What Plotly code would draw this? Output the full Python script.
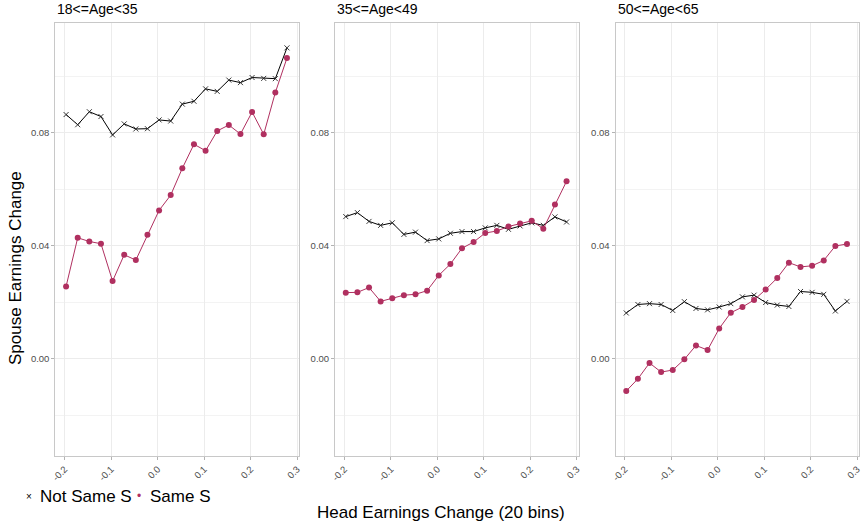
import plotly.graph_objects as go

# ---- data ----
panel_titles = ["18<=Age<35", "35<=Age<49", "50<=Age<65"]
x_bins = [-0.197, -0.172, -0.147, -0.122, -0.097, -0.072, -0.047, -0.022, 0.003, 0.028,
          0.053, 0.078, 0.103, 0.128, 0.153, 0.178, 0.203, 0.228, 0.253, 0.278]

not_same_1 = [0.0864, 0.0828, 0.0874, 0.0857, 0.0792, 0.0831, 0.0813, 0.0814, 0.0845, 0.0841,
              0.0901, 0.0911, 0.0955, 0.0946, 0.0986, 0.0977, 0.0995, 0.0992, 0.0991, 0.1100]
same_1 = [0.0256, 0.0428, 0.0415, 0.0407, 0.0275, 0.0368, 0.0349, 0.0439, 0.0525, 0.0579,
          0.0674, 0.0759, 0.0736, 0.0806, 0.0827, 0.0795, 0.0873, 0.0794, 0.0942, 0.1064]

not_same_2 = [0.0503, 0.0517, 0.0486, 0.0472, 0.0481, 0.0440, 0.0448, 0.0418, 0.0424, 0.0444,
              0.0450, 0.0450, 0.0463, 0.0472, 0.0458, 0.0470, 0.0481, 0.0472, 0.0502, 0.0484]
same_2 = [0.0234, 0.0235, 0.0252, 0.0203, 0.0214, 0.0225, 0.0228, 0.0241, 0.0295, 0.0335,
          0.0391, 0.0413, 0.0445, 0.0452, 0.0468, 0.0479, 0.0488, 0.0460, 0.0546, 0.0628]

not_same_3 = [0.0162, 0.0192, 0.0195, 0.0192, 0.0171, 0.0202, 0.0178, 0.0173, 0.0183, 0.0195,
              0.0219, 0.0225, 0.0199, 0.0190, 0.0185, 0.0238, 0.0235, 0.0228, 0.0169, 0.0203]
same_3 = [-0.0114, -0.0071, -0.0015, -0.0047, -0.0040, -0.0002, 0.0047, 0.0031, 0.0107, 0.0163,
          0.0183, 0.0208, 0.0245, 0.0286, 0.0340, 0.0325, 0.0329, 0.0348, 0.0399, 0.0406]

series_names = ["Not Same S", "Same S"]
x_ticks = [-0.2, -0.1, 0.0, 0.1, 0.2, 0.3]
y_ticks = [0.00, 0.04, 0.08]

# ---- style ----
W, H = 862, 522
BLACK = "#000000"
PINK = "#B03060"
FONT = "Liberation Sans, Arial, sans-serif"
panels_px = [(55.3, 299.0), (335.0, 578.6), (615.5, 859.0)]
y_top_px, y_bot_px = 22.7, 456.0
x_range = [-0.2202, 0.3039]
y_range = [-0.0344, 0.1189]

fig = go.Figure()
data = [(not_same_1, same_1), (not_same_2, same_2), (not_same_3, same_3)]

for i, (ns, s) in enumerate(data):
    sfx = "" if i == 0 else str(i + 1)
    fig.add_trace(go.Scatter(
        x=x_bins, y=ns, mode="lines+markers", name=series_names[0], showlegend=False,
        xaxis="x" + sfx, yaxis="y" + sfx,
        line=dict(color=BLACK, width=1),
        marker=dict(symbol="x-thin", size=5, line=dict(color="#222222", width=0.9)),
    ))
    fig.add_trace(go.Scatter(
        x=x_bins, y=s, mode="lines+markers", name=series_names[1], showlegend=False,
        xaxis="x" + sfx, yaxis="y" + sfx,
        line=dict(color=PINK, width=1),
        marker=dict(symbol="circle", size=6, color=PINK),
    ))

ydom = [1 - y_bot_px / H, 1 - y_top_px / H]
axis_common = dict(showline=True, linecolor="#c8c8c8", linewidth=1, mirror=True,
                   gridcolor="#ececec", gridwidth=1, zeroline=False,
                   ticks="outside", ticklen=3, tickcolor="#b3b3b3", tickwidth=1,
                   tickfont=dict(family=FONT, size=9.5, color="#4d4d4d"))

for i, (l, r) in enumerate(panels_px):
    sfx = "" if i == 0 else str(i + 1)
    fig.update_layout(**{
        "xaxis" + sfx: dict(domain=[l / W, r / W], range=x_range, anchor="y" + sfx,
                            tickmode="array", tickvals=x_ticks,
                            ticktext=[f"{v:.1f}" for v in x_ticks], tickangle=-45,
                            **axis_common),
        "yaxis" + sfx: dict(domain=ydom, range=y_range, anchor="x" + sfx,
                            tickmode="array", tickvals=y_ticks,
                            ticktext=[f"{v:.2f}" for v in y_ticks],
                            minor=dict(tickvals=[-0.02, 0.02, 0.06, 0.10], showgrid=True,
                                       gridcolor="#f3f3f3", gridwidth=1, ticks=""),
                            **axis_common),
    })
    fig.add_annotation(text=panel_titles[i], xref="paper", yref="paper",
                       x=l / W, y=1 - 19 / H, xanchor="left", yanchor="bottom",
                       showarrow=False, font=dict(family=FONT, size=14, color="#000"))

# axis titles
fig.add_annotation(text="Spouse Earnings Change", xref="paper", yref="paper",
                   x=15 / W, y=1 - 268 / H, textangle=-90, showarrow=False,
                   xanchor="center", yanchor="middle",
                   font=dict(family=FONT, size=17, color="#000"))
fig.add_annotation(text="Head Earnings Change (20 bins)", xref="paper", yref="paper",
                   x=441 / W, y=1 - 512 / H, showarrow=False,
                   xanchor="center", yanchor="middle",
                   font=dict(family=FONT, size=17, color="#000"))

# legend (key glyph + label)
fig.add_annotation(text="×", xref="paper", yref="paper", x=29 / W, y=1 - 496 / H,
                   showarrow=False, xanchor="center", yanchor="middle",
                   font=dict(family=FONT, size=10, color=BLACK))
fig.add_annotation(text=series_names[0], xref="paper", yref="paper", x=38 / W, y=1 - 496 / H,
                   showarrow=False, xanchor="left", yanchor="middle",
                   font=dict(family=FONT, size=17, color="#000"))
fig.add_annotation(text="•", xref="paper", yref="paper", x=139 / W, y=1 - 496 / H,
                   showarrow=False, xanchor="center", yanchor="middle",
                   font=dict(family=FONT, size=12, color=PINK))
fig.add_annotation(text=series_names[1], xref="paper", yref="paper", x=148 / W, y=1 - 496 / H,
                   showarrow=False, xanchor="left", yanchor="middle",
                   font=dict(family=FONT, size=17, color="#000"))

fig.update_layout(width=W, height=H, margin=dict(l=0, r=0, t=0, b=0, autoexpand=False),
                  paper_bgcolor="white", plot_bgcolor="white", showlegend=False,
                  font=dict(family=FONT))

fig.write_html("out.html")
